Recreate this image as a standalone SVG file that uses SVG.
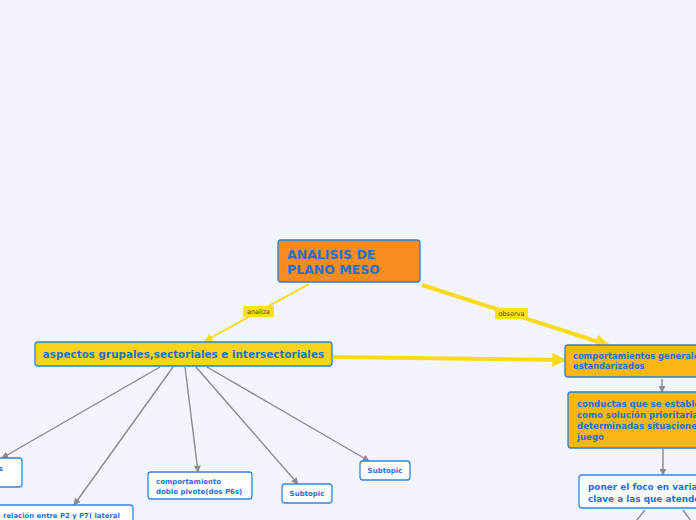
<svg xmlns="http://www.w3.org/2000/svg" width="696" height="520" viewBox="0 0 696 520">
<defs>
<style>
.t{font-family:"DejaVu Sans",Verdana,sans-serif;font-weight:bold;fill:#1f6fd6}
.sub{fill:#ffffff;stroke:#2f86e0;stroke-width:1.3}
.main{stroke:#2f7ed8;stroke-width:1.3}
.gc{stroke:#8a8a8a;stroke-width:1.4;fill:none}
.yc{stroke:#fbd91c;fill:none}
.lbl{font-family:"DejaVu Sans",Verdana,sans-serif;font-size:6.5px;fill:#5a4a00}
</style>
<marker id="ga" viewBox="0 0 10 10" refX="9" refY="5" markerWidth="7" markerHeight="7" orient="auto" markerUnits="userSpaceOnUse">
<path d="M0,0 L10,5 L0,10 z" fill="#8a8a8a"/>
</marker>
<marker id="ya" viewBox="0 0 10 10" refX="9" refY="5" markerWidth="8" markerHeight="8" orient="auto" markerUnits="userSpaceOnUse">
<path d="M0,0 L10,5 L0,10 z" fill="#fbd91c"/>
</marker>
<marker id="yb" viewBox="0 0 10 10" refX="9" refY="5" markerWidth="14" markerHeight="14" orient="auto" markerUnits="userSpaceOnUse">
<path d="M0,0 L10,5 L0,10 z" fill="#fbd91c"/>
</marker>
</defs>
<rect width="696" height="520" fill="#f2f5fd"/>
<g id="connectors">
<line class="yc" x1="309" y1="284" x2="205" y2="341" stroke-width="1.8" marker-end="url(#ya)"/>
<line class="yc" x1="422" y1="285" x2="608" y2="345" stroke-width="4" marker-end="url(#yb)"/>
<line class="yc" x1="333" y1="357" x2="565" y2="360" stroke-width="4" marker-end="url(#yb)"/>
<line class="gc" x1="160" y1="367" x2="2" y2="458" marker-end="url(#ga)"/>
<line class="gc" x1="173" y1="367" x2="74" y2="505" marker-end="url(#ga)"/>
<line class="gc" x1="185" y1="367" x2="198" y2="472" marker-end="url(#ga)"/>
<line class="gc" x1="196" y1="367" x2="298" y2="484" marker-end="url(#ga)"/>
<line class="gc" x1="207" y1="367" x2="369" y2="461" marker-end="url(#ga)"/>
<line class="gc" x1="662" y1="379" x2="662" y2="392" marker-end="url(#ga)"/>
<line class="gc" x1="663" y1="449" x2="663" y2="475" marker-end="url(#ga)"/>
<line class="gc" x1="645" y1="510" x2="636" y2="521"/>
<line class="gc" x1="683" y1="510" x2="691" y2="521"/>
<rect x="243" y="306" width="31" height="11" fill="#fde01a"/>
<text class="lbl" x="258.5" y="314" text-anchor="middle">analiza</text>
<rect x="495" y="308" width="33" height="11" fill="#fde01a"/>
<text class="lbl" x="511.5" y="316" text-anchor="middle">observa</text>
</g>
<g id="root">
<rect class="main" x="278" y="240" width="142" height="42" rx="3" fill="#f68b1f"/>
<text class="t" x="287" y="259" font-size="12.5">ANALISIS DE</text>
<text class="t" x="287" y="274" font-size="12.5">PLANO MESO</text>
</g>
<g id="aspectos">
<rect class="main" x="35" y="342" width="297" height="24" rx="3" fill="#f9d31c"/>
<text class="t" x="183.5" y="358" font-size="10.4" text-anchor="middle">aspectos grupales,sectoriales e intersectoriales</text>
</g>
<g id="comportamientos">
<rect class="main" x="565" y="345" width="140" height="32" rx="3" fill="#fbb614"/>
<text class="t" x="573" y="359" font-size="8.3">comportamientos generales</text>
<text class="t" x="573" y="369" font-size="8.3">estandarizados</text>
</g>
<g id="conductas">
<rect class="main" x="568" y="392" width="140" height="56" rx="3" fill="#fbb614"/>
<text class="t" x="577" y="407" font-size="8.6">conductas que se establecen</text>
<text class="t" x="577" y="418" font-size="8.6">como solución prioritaria a</text>
<text class="t" x="577" y="429" font-size="8.6">determinadas situaciones de</text>
<text class="t" x="577" y="440" font-size="8.6">juego</text>
</g>
<g id="poner">
<rect class="sub" x="579" y="475" width="130" height="33" rx="3"/>
<text class="t" x="588" y="490" font-size="8.9">poner el foco en variables</text>
<text class="t" x="588" y="502" font-size="8.9">clave a las que atender</text>
</g>
<g id="left1">
<rect class="sub" x="-10" y="458" width="32" height="29" rx="3"/>
<text class="t" x="-6" y="471" font-size="7">es</text>
</g>
<g id="left2">
<rect class="sub" x="-10" y="505" width="143" height="22" rx="3"/>
<text class="t" x="3" y="518" font-size="6.9">relación entre P2 y P7( lateral</text>
</g>
<g id="pivote">
<rect class="sub" x="148" y="472" width="104" height="27" rx="3"/>
<text class="t" x="156" y="484" font-size="7">comportamiento</text>
<text class="t" x="156" y="494" font-size="7">doble pivote(dos P6s)</text>
</g>
<g id="subtopic1">
<rect class="sub" x="282" y="484" width="50" height="19" rx="3"/>
<text class="t" x="307" y="496" font-size="7" text-anchor="middle">Subtopic</text>
</g>
<g id="subtopic2">
<rect class="sub" x="360" y="461" width="50" height="19" rx="3"/>
<text class="t" x="385" y="473" font-size="7" text-anchor="middle">Subtopic</text>
</g>
</svg>
